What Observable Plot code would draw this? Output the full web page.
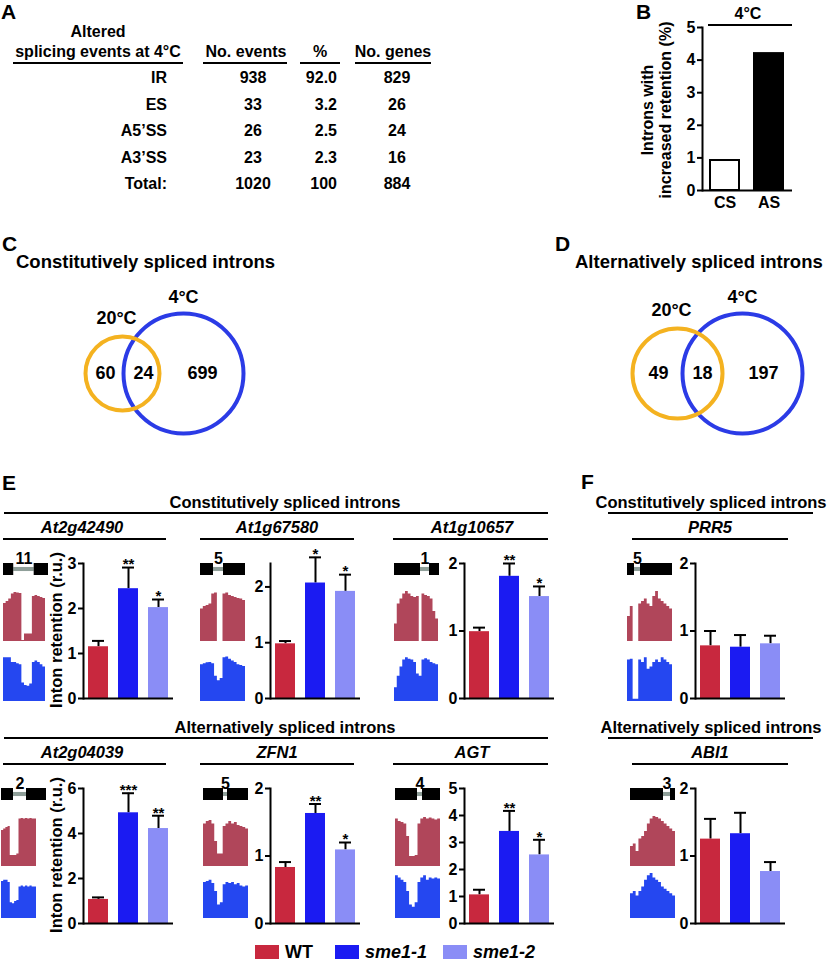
<!DOCTYPE html>
<html><head><meta charset="utf-8">
<script src="https://cdn.jsdelivr.net/npm/d3@7"></script>
<script src="https://cdn.jsdelivr.net/npm/@observablehq/plot@0.6"></script>
<style>
body{margin:0;background:#fff;}
#fig{position:relative;width:828px;height:961px;overflow:hidden;font-family:"Liberation Sans",Arial,Helvetica,sans-serif;font-weight:bold;color:#000;background:#fff;}
.t{position:absolute;white-space:nowrap;line-height:1;}
.hl{position:absolute;background:#000;}
svg{overflow:visible;}
</style></head><body><div id="fig"></div>
<script>
// ---------------- DATA ----------------
// Panel A table
const eventTypes = ["IR", "ES", "A5’SS", "A3’SS", "Total:"];
const eventCounts = [938, 33, 26, 23, 1020];
const eventPercents = ["92.0", "3.2", "2.5", "2.3", "100"];
const eventGenes = [829, 26, 24, 16, 884];
// Panel B
const intronClasses = ["CS", "AS"];
const retentionPct = [0.92, 4.23];
const bTicks = [0, 1, 2, 3, 4, 5];
// Panels C, D (Venn: only 20°C, both, only 4°C)
const vennSets = ["20°C", "4°C"];
const vennCS = [60, 24, 699];
const vennAS = [49, 18, 197];
// Panels E, F
const genotypes = ["WT", "sme1-1", "sme1-2"];
const genes = ["At2g42490", "At1g67580", "At1g10657", "PRR5", "At2g04039", "ZFN1", "AGT", "ABI1"];
const intronNumbers = [11, 5, 1, 5, 2, 5, 4, 3];
const meanWT    = [1.15, 0.98, 0.99, 0.78, 1.07, 0.83, 1.06, 1.25];
const meanSme11 = [2.44, 2.07, 1.81, 0.76, 4.92, 1.63, 3.41, 1.33];
const meanSme12 = [2.02, 1.92, 1.51, 0.81, 4.22, 1.09, 2.54, 0.77];
const semWT     = [0.13, 0.05, 0.06, 0.22, 0.09, 0.08, 0.19, 0.30];
const semSme11  = [0.47, 0.46, 0.19, 0.18, 0.87, 0.14, 0.76, 0.31];
const semSme12  = [0.18, 0.30, 0.15, 0.12, 0.57, 0.11, 0.56, 0.14];
const starsSme11 = ["**", "*", "**", "", "***", "**", "**", ""];
const starsSme12 = ["*", "*", "*", "", "**", "*", "*", ""];
const yMax   = [3, 2.42, 2, 2, 6, 2, 5, 2];
const yTicks = [[0,1,2,3], [0,1,2], [0,1,2], [0,1,2], [0,2,4,6], [0,1,2], [0,1,2,3,4,5], [0,1,2]];
const topHeadings = ["Constitutively spliced introns", "Alternatively spliced introns"];
// gene models: exon - intron - exon lengths
const exon1Len  = [10, 13, 26, 7, 12, 20, 22, 33];
const intronLen = [20, 10, 9, 6, 13, 4, 5, 7];
const exon2Len  = [14, 22, 10, 32, 20, 21, 18, 5];
// read coverage (relative), WT (upper track) and sme1-1 (lower track)
const covWT = [
  [0.76,0.80,0.85,0.95,0.98,0.97,0.96,0.02,0.15,0.15,0.15,0.90,0.92,0.90,0.88,0.86],
  [0.65,0.70,0.72,0.75,0.95,0.97,0.00,0.00,0.95,0.97,0.92,0.90,0.88,0.86,0.85,0.82],
  [0.35,0.75,0.85,0.95,1.00,0.95,0.90,0.88,0.90,0.00,0.95,0.92,0.90,0.85,0.60,0.45],
  [0.50,0.70,0.00,0.00,0.75,0.80,0.85,0.75,0.70,0.90,1.00,0.85,0.80,0.75,0.70,0.65],
  [0.72,0.75,0.78,0.80,0.22,0.22,0.22,0.25,0.95,0.96,0.95,0.96,0.95,0.96,0.95,0.95],
  [0.85,0.90,0.92,0.85,0.50,0.25,0.25,0.80,0.85,0.90,0.85,0.88,0.82,0.80,0.78,0.75],
  [0.95,0.90,0.88,0.85,0.60,0.20,0.20,0.22,0.85,0.95,0.98,0.95,0.97,0.95,0.93,0.95],
  [0.40,0.45,0.30,0.55,0.60,0.70,0.85,0.95,1.00,0.98,0.95,0.90,0.85,0.80,0.75,0.70]
];
const covSme = [
  [0.95,0.95,0.95,0.85,0.85,0.82,0.80,0.40,0.35,0.33,0.38,0.85,0.88,0.85,0.80,0.75],
  [0.80,0.82,0.84,0.85,0.82,0.55,0.45,0.50,0.95,0.97,0.92,0.88,0.85,0.80,0.78,0.76],
  [0.30,0.55,0.75,0.90,0.95,0.92,0.90,0.85,0.60,0.55,0.90,0.93,0.90,0.85,0.82,0.80],
  [0.90,0.92,0.05,0.05,0.90,0.85,0.95,0.70,0.75,0.85,0.90,0.85,0.95,0.90,0.85,0.80],
  [0.82,0.85,0.85,0.80,0.35,0.33,0.38,0.40,0.70,0.72,0.70,0.72,0.70,0.72,0.70,0.70],
  [0.80,0.82,0.85,0.78,0.60,0.30,0.35,0.75,0.80,0.78,0.80,0.75,0.78,0.72,0.70,0.72],
  [0.95,0.90,0.85,0.80,0.60,0.30,0.25,0.35,0.80,0.90,0.95,0.85,0.90,0.88,0.90,0.88],
  [0.55,0.60,0.50,0.60,0.70,0.85,0.95,1.00,0.90,0.85,0.80,0.70,0.65,0.60,0.55,0.50]
];

// ---------------- STYLE / LAYOUT ----------------
const FONT = '"Liberation Sans", Arial, Helvetica, sans-serif';
const barColors = ["#C8283E", "#1B1BF2", "#8A8DF6"];
const covColors = ["#B0465A", "#2547F0"];
const modelGray = "#8F9F99";
const vennColors = ["#F4B220", "#2B3BE6"];
const fig = document.getElementById("fig");
const baseStyle = {fontFamily: FONT, fontWeight: "bold", fontSize: "16px", background: "transparent", overflow: "visible", color: "#000"};
const fmt = d => String(d);

function put(node, left, top) {
  node.style.position = "absolute";
  node.style.left = left + "px";
  node.style.top = top + "px";
  fig.appendChild(node);
  return node;
}
function label(text, x, y, {size = 16, align = "c", italic = false, rotate = false} = {}) {
  const d = document.createElement("div");
  d.className = "t";
  d.textContent = text;
  d.style.fontSize = size + "px";
  if (italic) d.style.fontStyle = "italic";
  const tx = align === "c" ? "-50%" : align === "r" ? "-100%" : "0";
  d.style.transform = `translate(${tx},-50%)` + (rotate ? " rotate(-90deg)" : "");
  return put(d, x, y);
}
function hline(x1, x2, y, w = 2) {
  const d = document.createElement("div");
  d.className = "hl";
  d.style.width = (x2 - x1) + "px";
  d.style.height = w + "px";
  return put(d, x1, y - w / 2);
}

// ---------------- PANEL LETTERS ----------------
[["A", 1, 11], ["B", 636, 11], ["C", 2, 243], ["D", 555, 243], ["E", 2, 482], ["F", 581, 481]]
  .forEach(([t, x, y]) => label(t, x, y, {size: 21, align: "l"}));

// ---------------- PANEL A (table) ----------------
label("Altered", 98, 32, {size: 16});
label("splicing events at 4°C", 98, 52, {size: 16});
hline(13, 183, 63);
label("No. events", 246, 52, {size: 16});
hline(203, 287, 63);
label("%", 320, 52, {size: 16});
hline(300, 340, 63);
label("No. genes", 393, 52, {size: 16});
hline(355, 431, 63);
eventTypes.forEach((t, i) => {
  const y = 78 + i * 26.5;
  label(t, 167, y, {size: 16, align: "r"});
  label(String(eventCounts[i]), 253, y, {size: 16});
  label(eventPercents[i], 337, y, {size: 16, align: "r"});
  label(String(eventGenes[i]), 397, y, {size: 16});
});

// ---------------- PANEL B ----------------
{
  const bdata = intronClasses.map((c, i) => ({c, v: retentionPct[i]}));
  const p = Plot.plot({
    width: 122, height: 4 + 163 + 26,
    marginLeft: 30, marginRight: 2, marginTop: 4, marginBottom: 26,
    style: baseStyle,
    x: {type: "band", domain: intronClasses, paddingInner: 0.295, paddingOuter: 0.17},
    y: {domain: [0, 5]},
    marks: [
      Plot.barY(bdata, {filter: d => d.c === "CS", x: "c", y: "v", fill: "white", stroke: "black", strokeWidth: 2, insetLeft: 1, insetRight: 1}),
      Plot.barY(bdata, {filter: d => d.c === "AS", x: "c", y: "v", fill: "black"}),
      Plot.axisY({ticks: bTicks, tickFormat: fmt, tickSize: 5, tickPadding: 2, label: null, strokeWidth: 2, fontSize: 16}),
      Plot.axisX({tickSize: 0, tickPadding: 6, label: null, fontSize: 16}),
      Plot.frame({anchor: "left", strokeWidth: 2}),
      Plot.ruleY([0], {strokeWidth: 2})
    ]
  });
  put(p, 672, 23);
  label("4°C", 748, 14, {size: 16});
  hline(708, 792, 25, 2.5);
  label("Introns with", 648, 110, {size: 16, rotate: true});
  label("increased retention (%)", 666, 110, {size: 16, rotate: true});
}

// ---------------- PANELS C, D (Venn) ----------------
function venn(counts, rSmall, cxSmall, cxBig, numX) {
  const cy = 93;
  const circles = [
    {x: cxSmall, y: cy, r: rSmall, set: vennSets[0]},
    {x: cxBig, y: cy, r: 60, set: vennSets[1]}
  ];
  const nums = counts.map((n, i) => ({n, x: numX[i], y: cy}));
  const setLabels = [
    {t: vennSets[0], x: cxSmall - 6, y: cy - rSmall - 18},
    {t: vennSets[1], x: cxBig, y: cy - 60 - 16}
  ];
  return Plot.plot({
    width: 300, height: 170, margin: 0,
    style: baseStyle,
    x: {type: "identity", axis: null}, y: {type: "identity", axis: null}, r: {type: "identity"},
    color: {domain: vennSets, range: vennColors},
    marks: [
      Plot.dot(circles, {x: "x", y: "y", r: "r", stroke: "set", strokeWidth: 4, fill: "none"}),
      Plot.text(nums, {x: "x", y: "y", text: d => String(d.n), fontSize: 18}),
      Plot.text(setLabels, {x: "x", y: "y", text: "t", fontSize: 18})
    ]
  });
}
label("Constitutively spliced introns", 16, 262, {size: 18.5, align: "l"});
put(venn(vennCS, 37, 122, 183, [105, 143, 202]), 0, 280);
label("Alternatively spliced introns", 575, 262, {size: 18.5, align: "l"});
put(venn(vennAS, 45, 157, 222, [138, 182, 243]), 520, 280);

// ---------------- PANELS E, F ----------------
const axisX = [83, 270, 464, 695, 83, 270, 464, 695];
const rowOffset = [0, 0, 0, 0, 225, 225, 225, 225];
const blockX = [3, 200, 394, 627, 1, 203, 395, 630];
const covW   = [42, 45, 44, 45, 35, 45, 45, 45];

function barChart(i) {
  const means = [meanWT[i], meanSme11[i], meanSme12[i]];
  const sems = [semWT[i], semSme11[i], semSme12[i]];
  const stars = ["", starsSme11[i], starsSme12[i]];
  const data = genotypes.map((g, k) => ({g, mean: means[k], hi: means[k] + sems[k], star: stars[k]}));
  return Plot.plot({
    width: 122, height: 22 + 135 + 4,
    marginLeft: 30, marginRight: 2, marginTop: 22, marginBottom: 4,
    style: baseStyle,
    x: {type: "band", domain: genotypes, paddingInner: 0.344, paddingOuter: 0.1475, axis: null},
    y: {domain: [0, yMax[i]]},
    color: {domain: genotypes, range: barColors},
    marks: [
      Plot.ruleX(data, {x: "g", y1: "mean", y2: "hi", strokeWidth: 2}),
      Plot.tickY(data, {x: "g", y: "hi", strokeWidth: 2, insetLeft: 4, insetRight: 4}),
      Plot.barY(data, {x: "g", y: "mean", fill: "g"}),
      Plot.text(data.filter(d => d.star), {x: "g", y: "hi", text: "star", dy: -3, fontSize: 15}),
      Plot.axisY({ticks: yTicks[i], tickFormat: fmt, tickSize: 5, tickPadding: 2, label: null, strokeWidth: 2, fontSize: 16}),
      Plot.frame({anchor: "left", strokeWidth: 2}),
      Plot.ruleY([0], {strokeWidth: 2})
    ]
  });
}
function geneModel(i) {
  const lens = [exon1Len[i], intronLen[i], exon2Len[i]];
  const ends = d3.cumsum(lens);
  const segs = lens.map((l, k) => ({type: k === 1 ? "intron" : "exon", start: ends[k] - l, end: ends[k]}));
  const intron = segs.filter(s => s.type === "intron");
  return Plot.plot({
    width: 45, height: 30, marginTop: 18, marginBottom: 0, marginLeft: 0, marginRight: 0,
    style: baseStyle,
    x: {domain: [0, ends[2]], axis: null}, y: {domain: [0, 1], axis: null},
    marks: [
      Plot.rect(intron, {x1: "start", x2: "end", y1: 0.33, y2: 0.67, fill: modelGray}),
      Plot.rect(segs.filter(s => s.type === "exon"), {x1: "start", x2: "end", y1: 0, y2: 1, fill: "black"}),
      Plot.text(intron, {x: d => (d.start + d.end) / 2, y: 1, text: () => String(intronNumbers[i]), lineAnchor: "bottom", fontSize: 16})
    ]
  });
}
function coverage(values, color, w, h) {
  const pts = values.map((v, j) => ({j, v})).concat([{j: values.length, v: values[values.length - 1]}]);
  return Plot.plot({
    width: w, height: h, margin: 0,
    style: baseStyle,
    x: {domain: [0, values.length], axis: null}, y: {domain: [0, 1], axis: null},
    marks: [Plot.areaY(pts, {x: "j", y: "v", fill: color, curve: "step-after"})]
  });
}

genes.forEach((g, i) => {
  const off = rowOffset[i];
  put(barChart(i), axisX[i] - 30, 563 + off - 22);
  put(geneModel(i), blockX[i], 563 + off - 18);
  put(coverage(covWT[i], covColors[0], covW[i], 50), blockX[i], 591 + off);
  put(coverage(covSme[i], covColors[1], covW[i], i < 4 ? 46 : 45), blockX[i], (i < 4 ? 655 : 873));
});

// headings for E and F
[0, 225].forEach((off, r) => {
  label(topHeadings[r], 285, 502 + off, {size: 16.5});
  hline(4, 548, 513 + off);
  label(topHeadings[r], 711, 502 + off, {size: 16.5});
  hline(608, 813, 513 + off);
  label("Inton retention (r.u.)", 56, 630 + off, {size: 16.5, rotate: true});
});
const nameX = [82, 277, 472, 710, 82, 277, 472, 710];
const nameLine = [[3, 166], [200, 354], [393, 548], [632, 788]];
genes.forEach((g, i) => {
  const off = rowOffset[i];
  label(g, nameX[i], 527 + off, {size: 16.5, italic: true});
  const [a, b] = nameLine[i % 4];
  hline(a, b, 539 + off);
});

// ---------------- LEGEND ----------------
{
  const swX = [255, 335, 443];
  genotypes.forEach((g, k) => {
    const s = document.createElement("div");
    s.style.width = "24px"; s.style.height = "14px"; s.style.background = barColors[k];
    put(s, swX[k], 945);
    label(g, swX[k] + 30, 952, {size: 18, align: "l", italic: k > 0});
  });
}
</script></body></html>
